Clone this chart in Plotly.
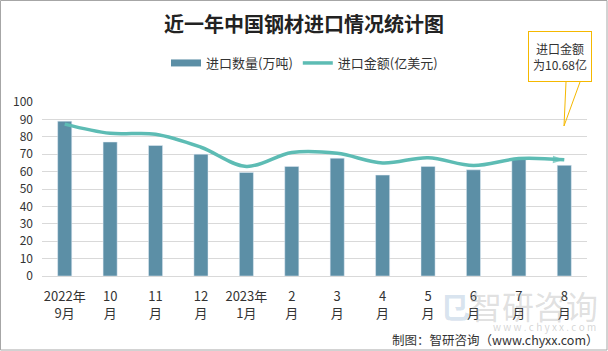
import plotly.graph_objects as go

categories = ["2022年<br>9月", "10<br>月", "11<br>月", "12<br>月", "2023年<br>1月", "2<br>月",
              "3<br>月", "4<br>月", "5<br>月", "6<br>月", "7<br>月", "8<br>月"]
qty = [89, 77, 75, 70, 59.5, 63, 67.7, 58, 63, 61, 67, 63.6]          # 进口数量(万吨)
amount = [13.97, 13.12, 13.04, 11.84, 10.08, 11.36, 11.28, 10.4, 10.88, 10.16, 10.8, 10.68]  # 进口金额(亿美元)

W, H = 608, 351
L, R, T, B = 42, 21, 102, 75
pw, ph = W - L - R, H - T - B

bar_color = "#5C8FA6"
line_color = "#5DBCB4"

fig = go.Figure()
fig.add_trace(go.Bar(x=categories, y=qty, name="进口数量(万吨)", marker_color=bar_color, yaxis="y",
                     showlegend=False))
# legend entry for bars drawn as a wide flat bar
fig.add_trace(go.Scatter(x=[None], y=[None], mode="lines", name="进口数量(万吨)",
                         line=dict(color=bar_color, width=7), yaxis="y"))

n = len(amount)
symbols = ["circle"] + ["circle"] * (n - 2) + ["arrow"]
sizes = [11] + [0] * (n - 2) + [12]
fig.add_trace(go.Scatter(x=categories, y=amount, name="进口金额(亿美元)", yaxis="y2",
                         mode="lines+markers",
                         line=dict(color=line_color, width=3.5, shape="spline", smoothing=1),
                         marker=dict(symbol=symbols, size=sizes, color=line_color, angleref="previous",
                                     line=dict(width=0))))


def px(x):
    return (x - L) / pw


def py(y):
    return (H - B - y) / ph


fig.update_layout(
    width=W, height=H,
    margin=dict(l=L, r=R, t=T, b=B, autoexpand=False),
    paper_bgcolor="white", plot_bgcolor="white",
    bargap=0.69,
    showlegend=True,
    legend=dict(orientation="h", x=px(166), xanchor="left", y=py(63),
                yanchor="middle", font=dict(size=13, color="#333", family="Noto Sans CJK SC"),
                traceorder="normal", itemwidth=30),
    title=dict(text="<b>近一年中国钢材进口情况统计图</b>", x=304 / W, xanchor="center",
               y=1 - 25 / H, yanchor="middle",
               font=dict(size=20, color="#222", family="Noto Sans CJK SC")),
    xaxis=dict(showgrid=False, showline=True, linecolor="#D9D9D9", linewidth=1, automargin=False,
               range=[-0.5, len(categories) - 0.5],
               tickfont=dict(size=13, color="#333", family="Noto Sans CJK SC"), ticks="",
               ticklabelstandoff=8),
    yaxis=dict(range=[0, 100], dtick=10, showgrid=True, gridcolor="#D9D9D9", gridwidth=1,
               zeroline=False, tickfont=dict(size=12, color="#333", family="Noto Sans CJK SC"),
               ticks="", ticklen=0, automargin=False, ticklabelstandoff=8),
    yaxis2=dict(range=[0, 16], overlaying="y", side="right", visible=False, showgrid=False,
                automargin=False),
    font=dict(family="Noto Sans CJK SC"),
)

# border around whole figure
fig.add_shape(type="rect", xref="paper", yref="paper", x0=px(0.5), x1=px(607), y0=py(350), y1=py(0.5),
              line=dict(color="#A6A6A6", width=1), fillcolor="rgba(0,0,0,0)", layer="above")

# callout tail
fig.add_shape(type="path", xref="paper", yref="paper",
              path=f"M {px(566)} {py(82)} L {px(564)} {py(126)} L {px(580)} {py(82)}",
              line=dict(color="#F5B800", width=1), layer="above")
# callout box
fig.add_annotation(xref="paper", yref="paper", x=px(560), y=py(56.5), xanchor="center", yanchor="middle",
                   text="进口金额<br>为10.68亿", showarrow=False, font=dict(size=12, color="#333"),
                   align="center", width=56, height=43, bordercolor="#F5B800", borderwidth=1,
                   bgcolor="white", borderpad=3)

# watermark
fig.add_annotation(xref="paper", yref="paper", x=px(600), y=py(305), xanchor="right", yanchor="middle",
                   text="智研咨询", showarrow=False, font=dict(size=32, color="rgba(150,150,150,0.3)"))
fig.add_annotation(xref="paper", yref="paper", x=px(455), y=py(305), xanchor="center", yanchor="middle",
                   text="<b>㔾</b>", showarrow=False, font=dict(size=30, color="rgba(120,160,200,0.3)"))
fig.add_annotation(xref="paper", yref="paper", x=px(598), y=py(326), xanchor="right", yanchor="middle",
                   text="w w w . c h y x x . c o m", showarrow=False,
                   font=dict(size=10, color="rgba(150,150,150,0.4)"))
# footer
fig.add_annotation(xref="paper", yref="paper", x=px(601), y=py(339), xanchor="right", yanchor="middle",
                   text="制图：智研咨询（www.chyxx.com）", showarrow=False,
                   font=dict(size=12.5, color="#333"))

fig.write_html("out.html")
